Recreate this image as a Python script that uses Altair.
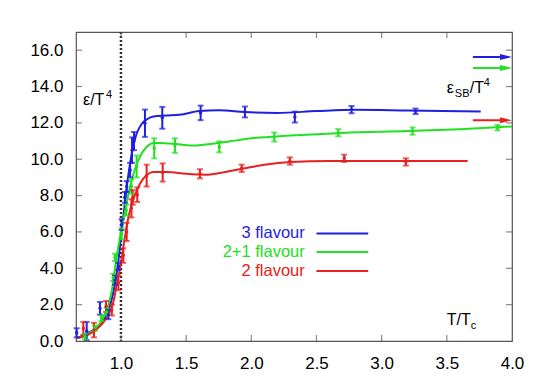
import altair as alt
import pandas as pd

# ---------------- data ----------------
series_names = ["3 flavour", "2+1 flavour", "2 flavour"]
series_colors = ["#1f1fe0", "#22e022", "#e82020"]

# lattice points (T/Tc, eps/T^4, error)
t3 = [0.66, 0.737, 0.839, 0.903, 0.954, 0.98, 1.005, 1.03, 1.044, 1.07, 1.085, 1.10, 1.184, 1.317, 1.611, 1.951, 2.334, 2.769, 3.26]
e3 = [0.45, 0.55, 1.8, 1.45, 3.35, 4.1, 6.4, 7.9, 8.5, 9.4, 10.5, 11.0, 11.98, 12.28, 12.55, 12.6, 12.32, 12.73, 12.64]
d3 = [0.25, 0.5, 0.35, 0.25, 0.25, 0.2, 0.3, 0.3, 0.3, 0.4, 0.7, 0.5, 0.75, 0.6, 0.4, 0.3, 0.3, 0.2, 0.15]

t21 = [0.724, 0.80, 0.85, 0.89, 0.94, 0.954, 1.005, 1.04, 1.08, 1.12, 1.255, 1.414, 1.754, 2.176, 2.667, 3.237, 3.889]
e21 = [0.24, 0.7, 1.26, 1.6, 3.5, 4.6, 5.9, 7.2, 8.5, 9.6, 10.6, 10.75, 10.68, 11.22, 11.46, 11.55, 11.74]
d21 = [0.15, 0.15, 0.15, 0.2, 0.2, 0.2, 0.3, 0.3, 0.4, 0.6, 0.55, 0.4, 0.3, 0.25, 0.2, 0.2, 0.15]

t2 = [0.711, 0.793, 0.885, 0.93, 0.98, 1.018, 1.044, 1.08, 1.09, 1.125, 1.197, 1.32, 1.606, 1.926, 2.296, 2.713, 3.186]
e2 = [0.7, 0.6, 1.9, 1.7, 3.2, 4.7, 6.0, 7.3, 7.9, 8.05, 9.1, 9.27, 9.2, 9.5, 9.9, 10.05, 9.85]
d2 = [0.35, 0.4, 0.3, 0.3, 0.4, 0.4, 0.5, 0.5, 0.4, 0.4, 0.6, 0.5, 0.25, 0.2, 0.2, 0.2, 0.2]

# smooth fit curves
ct3 = [0.655, 0.75, 0.85, 0.9, 0.95, 0.98, 1.0, 1.03, 1.06, 1.09, 1.12, 1.16, 1.2, 1.25, 1.35, 1.45, 1.6, 1.75, 1.95, 2.2, 2.5, 2.8, 3.2, 3.76]
ce3 = [0.15, 0.45, 1.0, 1.6, 3.0, 4.4, 5.7, 7.6, 9.3, 10.6, 11.4, 11.95, 12.2, 12.35, 12.4, 12.45, 12.65, 12.7, 12.6, 12.55, 12.65, 12.72, 12.68, 12.62]

ct21 = [0.655, 0.75, 0.85, 0.9, 0.93, 0.96, 1.0, 1.03, 1.06, 1.1, 1.15, 1.2, 1.25, 1.3, 1.4, 1.55, 1.7, 1.85, 2.0, 2.3, 2.7, 3.2, 3.6, 4.0]
ce21 = [0.15, 0.4, 1.1, 1.9, 2.8, 4.3, 6.0, 7.1, 8.2, 9.3, 10.2, 10.7, 10.9, 10.9, 10.85, 10.75, 10.85, 11.0, 11.15, 11.3, 11.45, 11.55, 11.65, 11.8]

ct2 = [0.655, 0.75, 0.85, 0.9, 0.94, 0.97, 1.0, 1.03, 1.06, 1.1, 1.15, 1.2, 1.25, 1.35, 1.5, 1.65, 1.8, 1.95, 2.1, 2.3, 2.6, 3.0, 3.66]
ce2 = [0.15, 0.35, 0.9, 1.4, 2.1, 3.2, 4.3, 5.7, 6.9, 7.9, 8.7, 9.15, 9.3, 9.3, 9.2, 9.15, 9.3, 9.5, 9.7, 9.85, 9.9, 9.9, 9.9]

# Stefan-Boltzmann limits
sb_values = [15.62, 15.02, 12.14]

x_ticks = [1.0, 1.5, 2.0, 2.5, 3.0, 3.5, 4.0]
y_ticks = [0, 2, 4, 6, 8, 10, 12, 14, 16]
tc_value = [1.0]

# ---------------- tables ----------------
pts = pd.concat([
    pd.DataFrame({"T": t, "E": e, "lo": [a - b for a, b in zip(e, d)], "hi": [a + b for a, b in zip(e, d)], "s": n})
    for t, e, d, n in [(t3, e3, d3, series_names[0]), (t21, e21, d21, series_names[1]), (t2, e2, d2, series_names[2])]
])
curves = pd.concat([
    pd.DataFrame({"T": t, "E": e, "s": n})
    for t, e, n in [(ct3, ce3, series_names[0]), (ct21, ce21, series_names[1]), (ct2, ce2, series_names[2])]
])
sb = pd.DataFrame({"s": series_names, "E": sb_values})

W, H = 436, 309
FONT = "Liberation Sans"
XMIN, XMAX = 0.655, 4.0
YMIN, YMAX = 0, 17

xs = alt.Scale(domain=[XMIN, XMAX], nice=False, zero=False)
ys = alt.Scale(domain=[YMIN, YMAX], nice=False, zero=False)
cs = alt.Scale(domain=series_names, range=series_colors)
color = alt.Color("s:N", scale=cs, legend=None)

x_axis = alt.Axis(values=x_ticks, format=".1f", labelPadding=14)
y_axis = alt.Axis(values=y_ticks, format=".1f", labelPadding=13)


def X(f):
    return alt.X(f, scale=xs, title=None, axis=x_axis)


def Y(f):
    return alt.Y(f, scale=ys, title=None, axis=y_axis)


xt = pd.DataFrame({"T": x_ticks[:-1]})
yt = pd.DataFrame({"E": y_ticks[1:]})
tick_col = "#555"
xtick_b = alt.Chart(xt).mark_tick(orient="vertical", size=6, thickness=1.2, color=tick_col).encode(
    x=X("T:Q"), y=alt.value(H - 3))
xtick_t = alt.Chart(xt).mark_tick(orient="vertical", size=6, thickness=1.2, color=tick_col).encode(
    x=X("T:Q"), y=alt.value(3))
ytick_l = alt.Chart(yt).mark_tick(orient="horizontal", size=6, thickness=1.2, color=tick_col).encode(
    y=Y("E:Q"), x=alt.value(3))
ytick_r = alt.Chart(yt).mark_tick(orient="horizontal", size=6, thickness=1.2, color=tick_col).encode(
    y=Y("E:Q"), x=alt.value(W - 3))

tc_line = alt.Chart(pd.DataFrame({"T": tc_value})).mark_rule(
    color="#333", strokeDash=[2, 2], strokeWidth=2.5).encode(
    x=X("T:Q"), y=alt.value(0), y2=alt.value(H))

lines = alt.Chart(curves).mark_line(strokeWidth=2, interpolate="monotone").encode(
    x=X("T:Q"), y=Y("E:Q"), color=color, detail="s:N")

bars = alt.Chart(pts).mark_rule(strokeWidth=2).encode(
    x=X("T:Q"), y=Y("lo:Q"), y2="hi:Q", color=color)
cap_lo = alt.Chart(pts).mark_tick(orient="horizontal", size=6, thickness=2).encode(
    x=X("T:Q"), y=Y("lo:Q"), color=color)
cap_hi = alt.Chart(pts).mark_tick(orient="horizontal", size=6, thickness=2).encode(
    x=X("T:Q"), y=Y("hi:Q"), color=color)
dots = alt.Chart(pts).mark_point(filled=True, size=12, opacity=1).encode(
    x=X("T:Q"), y=Y("E:Q"), color=color)

# Stefan-Boltzmann arrows
ARROW_X0, ARROW_X1 = 3.70, 3.96
sb_lines = alt.Chart(sb).mark_rule(strokeWidth=2).encode(
    x=alt.datum(ARROW_X0, scale=xs, axis=x_axis, title=None), x2=alt.datum(ARROW_X1),
    y=Y("E:Q"), color=color)
sb_heads = alt.Chart(sb).mark_point(
    shape="M-1,-0.5L1,0L-1,0.5Z", size=144, filled=True, opacity=1, xOffset=-6).encode(
    x=alt.datum(XMAX, scale=xs, axis=x_axis, title=None), y=Y("E:Q"), color=color)

# legend (manual: label left of line)
LEG_TEXT_X, LEG_X0, LEG_X1 = 2.41, 2.50, 2.897
leg_y = [5.92, 4.9, 3.85]
leg = pd.DataFrame({"s": series_names, "E": leg_y})
leg_text = alt.Chart(leg).mark_text(align="right", baseline="middle", fontSize=16.5, font=FONT).encode(
    x=alt.datum(LEG_TEXT_X, scale=xs, axis=x_axis, title=None), y=Y("E:Q"), text="s:N", color=color)
leg_line = alt.Chart(leg).mark_rule(strokeWidth=2).encode(
    x=alt.datum(LEG_X0, scale=xs, axis=x_axis, title=None), x2=alt.datum(LEG_X1), y=Y("E:Q"), color=color)


def txt(s, x, y, size, dx=0, dy=0):
    return alt.Chart(pd.DataFrame({"t": [s]})).mark_text(
        align="left", baseline="alphabetic", fontSize=size, font=FONT, color="#000", dx=dx, dy=dy).encode(
        x=alt.datum(x, scale=xs, axis=x_axis, title=None),
        y=alt.datum(y, scale=ys, axis=y_axis, title=None), text="t:N")


lab_eps = [txt("ε/T", 0.709, 13.0, 16), txt("4", 0.709, 13.0, 11, dx=23, dy=-7)]
lab_sb = [txt("ε", 3.50, 13.63, 16), txt("SB", 3.50, 13.63, 11, dx=8, dy=4),
          txt("/T", 3.50, 13.63, 16, dx=23), txt("4", 3.50, 13.63, 11, dx=37, dy=-7)]
lab_t = [txt("T/T", 3.50, 0.88, 16), txt("c", 3.50, 0.88, 11, dx=24, dy=4)]

chart = alt.layer(
    tc_line, lines, bars, cap_lo, cap_hi, dots, sb_lines, sb_heads,
    leg_text, leg_line, *lab_eps, *lab_sb, *lab_t,
    xtick_b, xtick_t, ytick_l, ytick_r,
).properties(
    width=W, height=H,
    autosize=alt.AutoSizeParams(type="none"),
    padding={"left": 68, "top": 24, "right": 25, "bottom": 42},
    background="white",
).configure_view(
    stroke="#555", strokeWidth=1.2
).configure_axis(
    labelFontSize=17, labelFont=FONT, labelColor="#000", tickSize=0, domain=False,
    grid=False, labelOverlap=False, labelFlush=False,
)

chart.save("out.html", embed_options={"renderer": "svg", "actions": False})
